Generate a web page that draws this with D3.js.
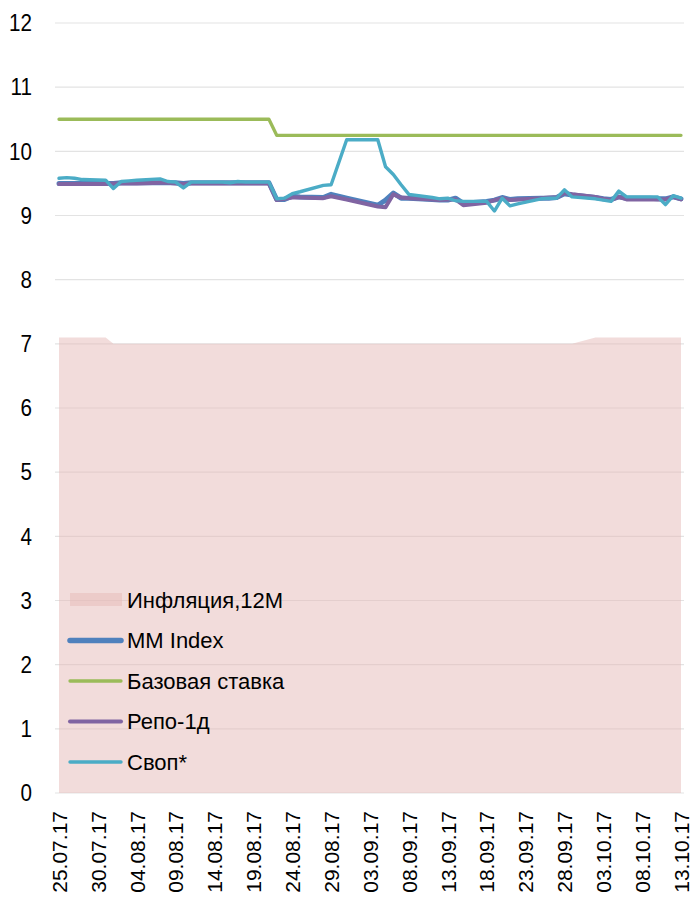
<!DOCTYPE html>
<html>
<head>
<meta charset="utf-8">
<script src="https://cdn.jsdelivr.net/npm/d3@7"></script>
<style>
  body { margin: 0; background: #fff; }
  text { font-family: "Liberation Sans", Arial, sans-serif; fill: #000; }
</style>
</head>
<body>
<script>
// business days (30.08 and 01.09 are holidays, no fixing)
var dates = [
  "25.07.17","26.07.17","27.07.17","28.07.17",
  "31.07.17","01.08.17","02.08.17","03.08.17","04.08.17",
  "07.08.17","08.08.17","09.08.17","10.08.17","11.08.17",
  "14.08.17","15.08.17","16.08.17","17.08.17","18.08.17",
  "21.08.17","22.08.17","23.08.17","24.08.17","25.08.17",
  "28.08.17","29.08.17","31.08.17",
  "04.09.17","05.09.17","06.09.17","07.09.17","08.09.17",
  "11.09.17","12.09.17","13.09.17","14.09.17","15.09.17",
  "18.09.17","19.09.17","20.09.17","21.09.17","22.09.17",
  "25.09.17","26.09.17","27.09.17","28.09.17","29.09.17",
  "02.10.17","03.10.17","04.10.17","05.10.17","06.10.17",
  "09.10.17","10.10.17","11.10.17","12.10.17","13.10.17"
];

var inflation = [
  7.1,7.1,7.1,7.1,
  7.1,7.0,7.0,7.0,7.0,
  7.0,7.0,7.0,7.0,7.0,
  7.0,7.0,7.0,7.0,7.0,
  7.0,7.0,7.0,7.0,7.0,
  7.0,7.0,7.0,
  7.0,7.0,7.0,7.0,7.0,
  7.0,7.0,7.0,7.0,7.0,
  7.0,7.0,7.0,7.0,7.0,
  7.0,7.0,7.0,7.0,7.0,
  7.1,7.1,7.1,7.1,7.1,
  7.1,7.1,7.1,7.1,7.1
];

var mmIndex = [
  9.50,9.50,9.50,9.50,
  9.50,9.50,9.51,9.51,9.51,
  9.51,9.51,9.51,9.50,9.51,
  9.51,9.51,9.51,9.51,9.51,
  9.51,9.25,9.25,9.30,9.29,
  9.28,9.33,9.27,
  9.16,9.24,9.35,9.27,9.27,
  9.25,9.24,9.24,9.27,9.19,
  9.22,9.24,9.28,9.25,9.26,
  9.27,9.27,9.28,9.34,9.32,
  9.28,9.26,9.25,9.29,9.27,
  9.27,9.26,9.26,9.29,9.26
];

var baseRate = [
  10.5,10.5,10.5,10.5,
  10.5,10.5,10.5,10.5,10.5,
  10.5,10.5,10.5,10.5,10.5,
  10.5,10.5,10.5,10.5,10.5,
  10.5,10.25,10.25,10.25,10.25,
  10.25,10.25,10.25,
  10.25,10.25,10.25,10.25,10.25,
  10.25,10.25,10.25,10.25,10.25,
  10.25,10.25,10.25,10.25,10.25,
  10.25,10.25,10.25,10.25,10.25,
  10.25,10.25,10.25,10.25,10.25,
  10.25,10.25,10.25,10.25,10.25
];

var repo = [
  9.49,9.49,9.49,9.49,
  9.49,9.50,9.50,9.50,9.50,
  9.51,9.51,9.50,9.49,9.50,
  9.50,9.50,9.50,9.50,9.50,
  9.50,9.24,9.26,9.28,9.28,
  9.27,9.30,9.25,
  9.14,9.13,9.33,9.28,9.27,
  9.25,9.24,9.25,9.25,9.16,
  9.20,9.24,9.27,9.24,9.25,
  9.27,9.28,9.28,9.35,9.33,
  9.29,9.26,9.24,9.29,9.25,
  9.25,9.25,9.25,9.29,9.25
];

var swap = [
  9.58,9.59,9.58,9.56,
  9.55,9.42,9.53,9.54,9.55,
  9.57,9.53,9.52,9.43,9.52,
  9.52,9.52,9.51,9.53,9.52,
  9.52,9.26,9.27,9.34,9.37,
  9.47,9.48,10.18,
  10.18,9.76,9.64,9.48,9.33,
  9.28,9.26,9.27,9.23,9.22,
  9.22,9.07,9.27,9.15,9.18,
  9.26,9.27,9.27,9.40,9.29,
  9.26,9.24,9.22,9.38,9.29,
  9.29,9.29,9.17,9.31,9.27
];

var tickLabels = ["25.07.17","30.07.17","04.08.17","09.08.17","14.08.17","19.08.17",
  "24.08.17","29.08.17","03.09.17","08.09.17","13.09.17","18.09.17","23.09.17",
  "28.09.17","03.10.17","08.10.17","13.10.17"];
var yTicks = [0,1,2,3,4,5,6,7,8,9,10,11,12];

var legendNames = ["Инфляция,12М","MM Index","Базовая ставка","Репо-1д","Своп*"];
var legendColors = ["#e6b9b8","#4f81bd","#9bbb59","#8064a2","#4bacc6"];

var parseDate = d3.timeParse("%d.%m.%y");
var data = dates.map(function(d,i){
  return {date: parseDate(d), infl: inflation[i], mm: mmIndex[i], base: baseRate[i], repo: repo[i], swap: swap[i]};
});

var width = 696, height = 898;
var svg = d3.select('body').append('svg').attr('width',width).attr('height',height);

var x = d3.scaleTime()
  .domain([parseDate(dates[0]), parseDate(dates[dates.length-1])])
  .range([59,681]);
var y = d3.scaleLinear()
  .domain([0,12])
  .range([793,23]);

// gridlines, then the half transparent inflation area over them
svg.append('g').selectAll('line').data(yTicks).enter().append('line')
  .attr('x1',55).attr('x2',684)
  .attr('y1',function(d){return y(d);}).attr('y2',function(d){return y(d);})
  .attr('stroke','#e3e3e3').attr('stroke-width',1.2);

var area = d3.area()
  .x(function(d){return x(d.date);})
  .y0(y(0))
  .y1(function(d){return y(d.infl);});
svg.append('path').attr('d',area(data)).attr('fill',legendColors[0]).attr('fill-opacity',0.5);

var yAxis = d3.axisLeft(y).tickValues(yTicks).tickSize(0).tickPadding(0);
svg.append('g').attr('transform','translate(32,0)').call(yAxis)
  .call(function(g){ g.select('.domain').remove(); })
  .selectAll('text')
  .style('font-size','24px').attr('fill','#000')
  .attr('x',0).attr('transform','scale(0.86,1)');

var xAxis = d3.axisBottom(x).tickValues(tickLabels.map(parseDate)).tickSize(0)
  .tickFormat(d3.timeFormat("%d.%m.%y"));
svg.append('g').attr('transform','translate(0,793)').call(xAxis)
  .call(function(g){ g.select('.domain').remove(); })
  .selectAll('text')
  .style('font-size','21px').attr('fill','#000')
  .attr('text-anchor','end')
  .attr('transform','rotate(-90)')
  .attr('x',-18).attr('y',0).attr('dy','0.35em');

var series = [
  {key:'mm', color:legendColors[1], w:5},
  {key:'base', color:legendColors[2], w:3.3},
  {key:'repo', color:legendColors[3], w:4},
  {key:'swap', color:legendColors[4], w:3.4}
];
series.forEach(function(s){
  var line = d3.line()
    .x(function(d){return x(d.date);})
    .y(function(d){return y(d[s.key]);});
  svg.append('path').attr('d',line(data))
    .attr('fill','none').attr('stroke',s.color).attr('stroke-width',s.w)
    .attr('stroke-linejoin','round').attr('stroke-linecap','round');
});

// legend
var legend = svg.append('g').attr('transform','translate(70,600)');
var item = legend.selectAll('g').data(legendNames).enter().append('g')
  .attr('transform',function(d,i){return 'translate(0,'+(i*40.5)+')';});
item.each(function(d,i){
  var g = d3.select(this);
  if(i===0){
    g.append('rect').attr('x',0).attr('y',-7).attr('width',52).attr('height',13)
      .attr('fill',legendColors[0]).attr('fill-opacity',0.5);
  } else {
    g.append('line').attr('x1',0).attr('x2',51).attr('y1',0).attr('y2',0)
      .attr('stroke',legendColors[i]).attr('stroke-width',i===1 ? 5.5 : series[i-1].w)
      .attr('stroke-linecap','round');
  }
  g.append('text').attr('x',57).attr('y',0).attr('dy','0.35em')
    .style('font-size','22px').text(d);
});
</script>
</body>
</html>
